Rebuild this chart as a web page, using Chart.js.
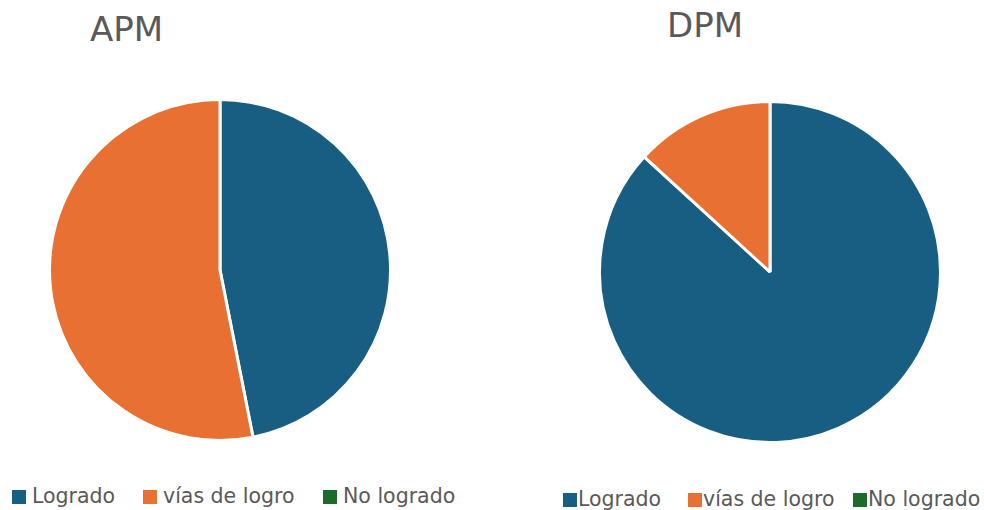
<!DOCTYPE html>
<html lang="es">
<head>
  <meta charset="UTF-8" />
  <title>APM / DPM</title>
  <script src="https://cdn.jsdelivr.net/npm/chart.js"></script>
  <style>
    body { margin: 0; width: 984px; height: 510px; background: #fff; position: relative; overflow: hidden; font-family: "DejaVu Sans", sans-serif; color: #595959; }
    .title { position: absolute; font-size: 34px; color: #595959; top: 9px; }
    .pie { position: absolute; }
    .legend { position: absolute; top: 484px; font-size: 20.5px; white-space: nowrap; }
    .legend span.item { position: absolute; top: 0; }
    .legend i { display: inline-block; width: 14px; height: 14px; margin-right: 6px; vertical-align: -1px; }
    #legDpm i { margin-right: 1px; }
  </style>
</head>
<body>
  <div class="title" style="left:90px">APM</div>
  <div class="title" style="left:667px; top:5px">DPM</div>
  <div class="pie" style="left:48px; top:98px; width:344px; height:344px"><canvas id="apm"></canvas></div>
  <div class="pie" style="left:598px; top:100px; width:344px; height:344px"><canvas id="dpm"></canvas></div>
  <div class="legend" id="legApm" style="left:0"></div>
  <div class="legend" id="legDpm" style="left:0; top:487px"></div>
  <script>
    const categories = ['Logrado', 'vías de logro', 'No logrado'];
    const colors = ['#175E82', '#E87032', '#1B6B2B'];
    const apmValues = [46.9, 53.1, 0];
    const dpmValues = [86.8, 13.2, 0];

    function makePie(id, values) {
      new Chart(document.getElementById(id), {
        type: 'pie',
        data: {
          labels: categories,
          datasets: [{ data: values, backgroundColor: colors, borderColor: '#fff', borderWidth: 3 }]
        },
        options: {
          responsive: true,
          maintainAspectRatio: false,
          animation: false,
          layout: { padding: 0 },
          plugins: { legend: { display: false }, tooltip: { enabled: false } }
        }
      });
    }
    makePie('apm', apmValues);
    makePie('dpm', dpmValues);

    // legend item x positions (left of the colour box)
    function makeLegend(id, xs) {
      const el = document.getElementById(id);
      categories.forEach((c, i) => {
        const s = document.createElement('span');
        s.className = 'item';
        s.style.left = xs[i] + 'px';
        s.innerHTML = '<i style="background:' + colors[i] + '"></i>' + c;
        el.appendChild(s);
      });
    }
    makeLegend('legApm', [12, 143, 323]);
    makeLegend('legDpm', [563, 688, 853]);
  </script>
</body>
</html>
